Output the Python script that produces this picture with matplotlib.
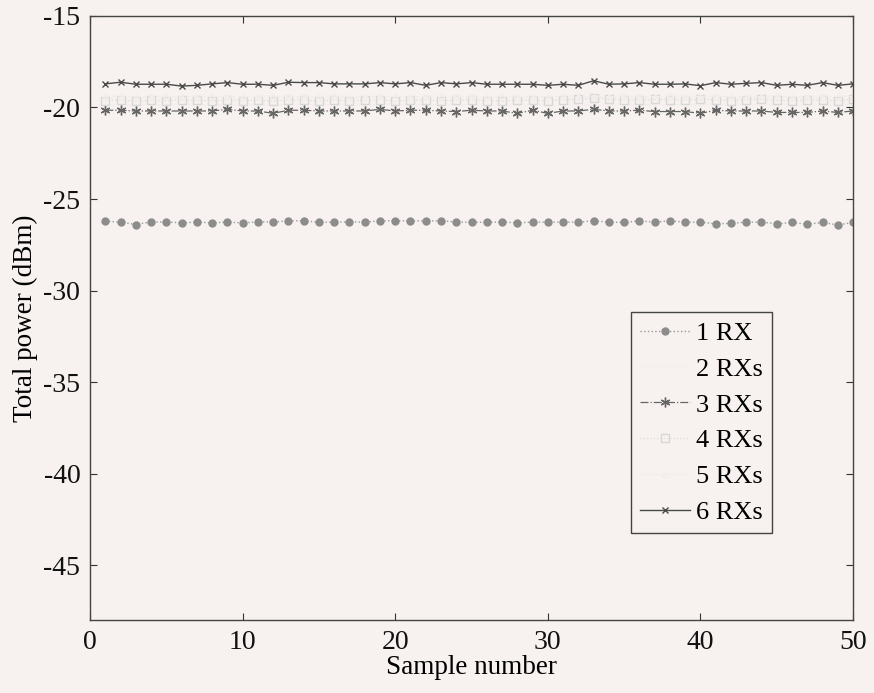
import numpy as np
import matplotlib
matplotlib.use("Agg")
import matplotlib.pyplot as plt

plt.rcParams['font.family'] = ['Liberation Serif', 'DejaVu Serif']
plt.rcParams['axes.unicode_minus'] = False

# sample index
samples = np.arange(1, 51)

# total power readings (dBm)
rx1 = [-26.21, -26.26, -26.39, -26.25, -26.25, -26.30, -26.26, -26.30, -26.26, -26.30,
       -26.25, -26.25, -26.19, -26.19, -26.27, -26.26, -26.25, -26.26, -26.19, -26.19,
       -26.19, -26.19, -26.19, -26.25, -26.27, -26.27, -26.25, -26.30, -26.26, -26.26,
       -26.26, -26.26, -26.19, -26.26, -26.28, -26.19, -26.26, -26.19, -26.26, -26.26,
       -26.35, -26.33, -26.26, -26.26, -26.35, -26.28, -26.37, -26.28, -26.41, -26.28]

rx2 = [-19.85, -19.88, -19.84, -19.86, -19.87, -19.85, -19.86, -19.84, -19.88, -19.85,
       -19.86, -19.87, -19.85, -19.84, -19.86, -19.85, -19.87, -19.86, -19.85, -19.84,
       -19.86, -19.85, -19.87, -19.86, -19.85, -19.84, -19.86, -19.87, -19.85, -19.86,
       -19.84, -19.85, -19.86, -19.87, -19.85, -19.86, -19.84, -19.85, -19.87, -19.86,
       -19.85, -19.86, -19.84, -19.85, -19.87, -19.86, -19.85, -19.84, -19.86, -19.85]

rx3 = [-20.15, -20.15, -20.19, -20.19, -20.19, -20.19, -20.19, -20.19, -20.10, -20.19,
       -20.19, -20.32, -20.15, -20.15, -20.19, -20.19, -20.19, -20.19, -20.10, -20.19,
       -20.15, -20.15, -20.19, -20.22, -20.15, -20.19, -20.19, -20.32, -20.15, -20.32,
       -20.19, -20.19, -20.10, -20.19, -20.19, -20.15, -20.22, -20.22, -20.22, -20.32,
       -20.15, -20.19, -20.19, -20.19, -20.27, -20.27, -20.27, -20.19, -20.27, -20.19]

rx4 = [-19.62, -19.58, -19.65, -19.60, -19.63, -19.57, -19.61, -19.64, -19.59, -19.62,
       -19.60, -19.66, -19.58, -19.61, -19.63, -19.59, -19.62, -19.60, -19.57, -19.64,
       -19.61, -19.59, -19.63, -19.60, -19.58, -19.62, -19.65, -19.60, -19.61, -19.63,
       -19.58, -19.55, -19.50, -19.55, -19.58, -19.60, -19.56, -19.58, -19.60, -19.55,
       -19.58, -19.62, -19.57, -19.56, -19.60, -19.63, -19.58, -19.60, -19.62, -19.55]

rx5 = [-19.40, -19.38, -19.42, -19.41, -19.39, -19.43, -19.40, -19.38, -19.41, -19.42,
       -19.40, -19.39, -19.41, -19.43, -19.40, -19.38, -19.42, -19.41, -19.39, -19.40,
       -19.42, -19.41, -19.38, -19.40, -19.43, -19.41, -19.39, -19.40, -19.42, -19.41,
       -19.38, -19.40, -19.43, -19.41, -19.39, -19.40, -19.42, -19.38, -19.41, -19.40,
       -19.39, -19.42, -19.41, -19.40, -19.38, -19.43, -19.40, -19.41, -19.39, -19.40]

rx6 = [-18.71, -18.62, -18.73, -18.73, -18.73, -18.83, -18.79, -18.71, -18.64, -18.73,
       -18.73, -18.79, -18.62, -18.64, -18.64, -18.71, -18.71, -18.71, -18.64, -18.71,
       -18.64, -18.79, -18.64, -18.71, -18.64, -18.73, -18.73, -18.73, -18.73, -18.79,
       -18.73, -18.79, -18.54, -18.73, -18.71, -18.64, -18.73, -18.73, -18.71, -18.81,
       -18.64, -18.73, -18.68, -18.64, -18.79, -18.73, -18.79, -18.64, -18.79, -18.71]

labels = ['1 RX', '2 RXs', '3 RXs', '4 RXs', '5 RXs', '6 RXs']

bg = '#f7f2ef'
fig = plt.figure(figsize=(8.74, 6.93), dpi=100, facecolor=bg)
ax = fig.add_axes([0.103, 0.105, 0.873, 0.872], facecolor=bg)

ax.plot(samples, rx1, linestyle=':', color='#9a9a9a', marker='o', markersize=5,
        markerfacecolor='#8c8c8c', markeredgecolor='#8c8c8c', linewidth=1, label=labels[0])
ax.plot(samples, rx2, linestyle='-', color='#f4efec', marker='.', markersize=3,
        linewidth=1, label=labels[1])
ax.plot(samples, rx3, linestyle='-.', color='#666666', marker=(6, 2, 0), markersize=7,
        linewidth=0.9, label=labels[2])
ax.plot(samples, rx4, linestyle=':', color='#dcdcdc', marker='s', markersize=6,
        markerfacecolor='none', markeredgecolor='#d8d8d8', linewidth=0.9, label=labels[3])
ax.plot(samples, rx5, linestyle='--', color='#f2edea', marker='^', markersize=4,
        markerfacecolor='none', linewidth=1, label=labels[4])
ax.plot(samples, rx6, linestyle='-', color='#4a4a4a', marker='x', markersize=5,
        linewidth=1, label=labels[5])

ax.set_xlim(0, 50)
ax.set_ylim(-48, -15)
ax.set_xticks([0, 10, 20, 30, 40, 50])
ax.set_yticks([-45, -40, -35, -30, -25, -20, -15])
ax.tick_params(direction='in', top=True, right=True, length=5, width=0.8,
               labelsize=20, colors='#333333', labelcolor='#111111', pad=7)
for s in ax.spines.values():
    s.set_color('#444444')
    s.set_linewidth(1)

ax.set_xlabel('Sample number', fontsize=19.5, labelpad=0)
ax.set_ylabel('Total power (dBm)', fontsize=19.5, labelpad=4)

leg = ax.legend(loc='upper left', bbox_to_anchor=(0.709, 0.51), fontsize=19,
                frameon=True, fancybox=False, edgecolor='#444444', facecolor=bg,
                framealpha=1, handlelength=1.9, handletextpad=0.2, borderpad=0.35,
                labelspacing=0.47, borderaxespad=0)
leg.get_frame().set_linewidth(1)

fig.savefig('out.png', dpi=100, facecolor=bg)
